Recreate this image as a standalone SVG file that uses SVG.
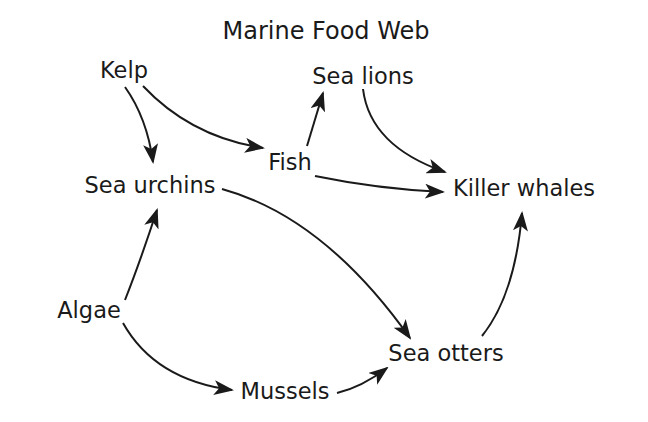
<svg xmlns="http://www.w3.org/2000/svg" width="648" height="422" viewBox="0 0 648 422">
<defs>
<marker id="ah" viewBox="0 0 20 15" refX="18" refY="7.5" markerWidth="20" markerHeight="15" markerUnits="userSpaceOnUse" orient="auto">
<path d="M0,0 L20,7.5 L0,15 L5,7.5 z" fill="#1a1a1a"/>
</marker>
<style>
text{font-family:"DejaVu Sans",Verdana,sans-serif;font-size:22.5px;fill:#1a1a1a;text-anchor:middle}
.t{font-size:24px}
.e{fill:none;stroke:#1a1a1a;stroke-width:2;marker-end:url(#ah)}
</style>
</defs>
<rect width="648" height="422" fill="#fff"/>
<text class="t" x="326" y="39">Marine Food Web</text>
<g id="edges">
<path class="e" d="M125,87 Q147,118 153,162"/>
<path class="e" d="M143,86 Q191,137 263,148"/>
<path class="e" d="M307,146 L323,93"/>
<path class="e" d="M363,89 Q370,146 445,172"/>
<path class="e" d="M315,176 Q378,189 443,192"/>
<path class="e" d="M222,189 Q324,217 410,338"/>
<path class="e" d="M125,300 Q140,262 157,210"/>
<path class="e" d="M123,323 Q155,380 232,390"/>
<path class="e" d="M337,393 Q362,387 387,368"/>
<path class="e" d="M482,336 Q515,295 522,213"/>
</g>
<g id="kelp"><text x="124" y="78">Kelp</text></g>
<g id="sea-lions"><text x="363" y="84">Sea lions</text></g>
<g id="fish"><text x="290" y="170">Fish</text></g>
<g id="sea-urchins"><text x="150" y="193">Sea urchins</text></g>
<g id="killer-whales"><text x="524" y="196">Killer whales</text></g>
<g id="algae"><text x="89" y="318">Algae</text></g>
<g id="sea-otters"><text x="446" y="361">Sea otters</text></g>
<g id="mussels"><text x="285" y="399">Mussels</text></g>
</svg>
